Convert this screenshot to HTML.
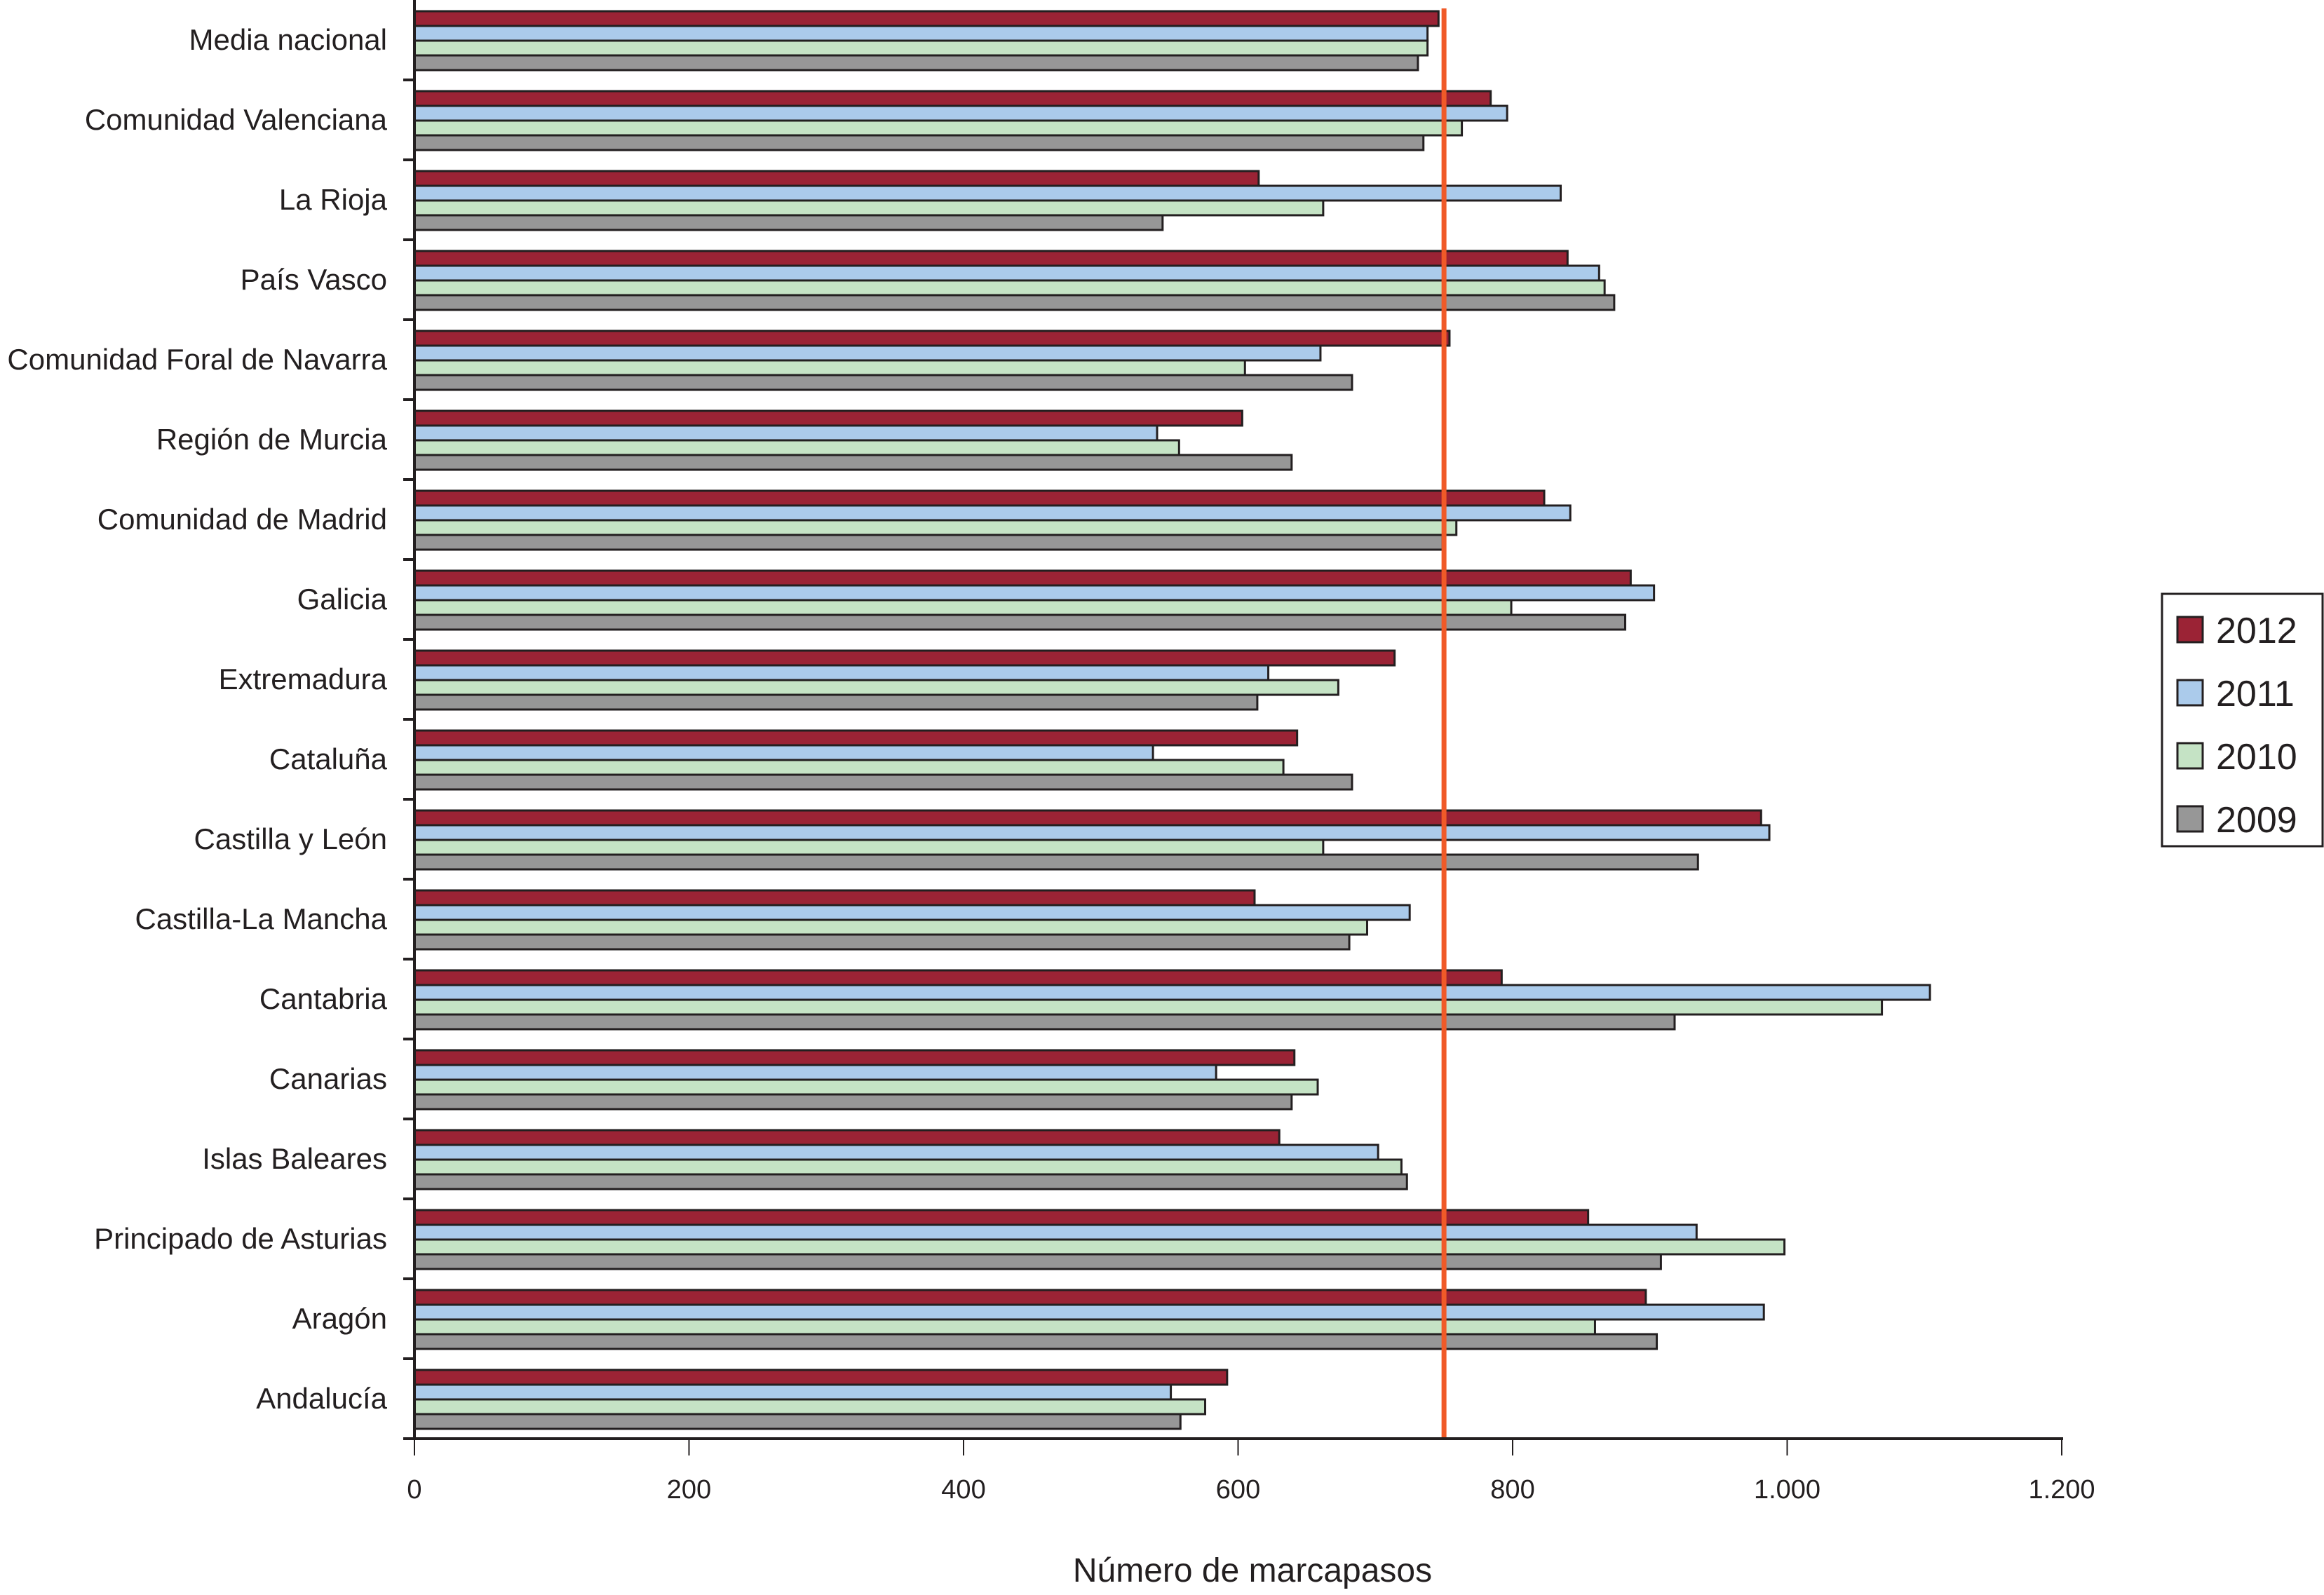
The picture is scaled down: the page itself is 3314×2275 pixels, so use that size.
<!DOCTYPE html>
<html><head><meta charset="utf-8"><style>
html,body{margin:0;padding:0;background:#fff;}
svg{display:block;font-family:"Liberation Sans",sans-serif;}
</style></head><body>
<svg id="chart" width="3314" height="2275" viewBox="0 0 3314 2275" xmlns="http://www.w3.org/2000/svg">
<g id="bars"></g>
<g id="axes"></g>
<g id="legend"></g>
</svg>
<script>
const categories = ["Media nacional","Comunidad Valenciana","La Rioja","País Vasco","Comunidad Foral de Navarra","Región de Murcia","Comunidad de Madrid","Galicia","Extremadura","Cataluña","Castilla y León","Castilla-La Mancha","Cantabria","Canarias","Islas Baleares","Principado de Asturias","Aragón","Andalucía"];
const values2012 = [746,784,615,840,754,603,823,886,714,643,981,612,792,641,630,855,897,592];
const values2011 = [738,796,835,863,660,541,842,903,622,538,987,725,1104,584,702,934,983,551];
const values2010 = [738,763,662,867,605,557,759,799,673,633,662,694,1069,658,719,998,860,576];
const values2009 = [731,735,545,874,683,639,749,882,614,683,935,681,918,639,723,908,905,558];
const seriesNames = ["2012","2011","2010","2009"];
const xTicks = [0,200,400,600,800,1000,1200];
const xTickLabels = ["0","200","400","600","800","1.000","1.200"];
const referenceValue = 750;

const NS="http://www.w3.org/2000/svg";
const colors=["#9b2335","#abcbeb","#c5e3c5","#979797"];
const X0=591, X1=2940, Y0=0, Y1=2052;
const band=(Y1-Y0)/categories.length;
function xs(v){return X0+(v/1200)*(X1-X0);}
function mk(tag,attrs,parent){const e=document.createElementNS(NS,tag);for(const k in attrs)e.setAttribute(k,attrs[k]);parent.appendChild(e);return e;}
const gB=document.getElementById('bars'), gA=document.getElementById('axes'), gL=document.getElementById('legend');
const series=[values2012,values2011,values2010,values2009];

categories.forEach((c,i)=>{
  const top=Y0+band*i;
  series.forEach((vals,s)=>{
    const r=mk('rect',{x:X0,y:top+16+s*21,width:xs(vals[i])-X0,height:21,fill:colors[s],stroke:"#231f20","stroke-width":3},gB);
    
    
  });
  const t=mk('text',{x:552,y:top+band/2+14,"text-anchor":"end","font-size":42,fill:"#231f20"},gA);
  t.textContent=c;
  
  
  const tk=mk('line',{x1:575,x2:592,y1:top+band,y2:top+band,stroke:"#231f20","stroke-width":4},gA);
  
  
});
const ref=mk('line',{x1:xs(referenceValue),x2:xs(referenceValue),y1:12,y2:Y1,stroke:"#f05a28","stroke-width":7},gB);


const ya=mk('line',{x1:X0,x2:X0,y1:0,y2:Y1+2,stroke:"#231f20","stroke-width":4},gA);


const xa=mk('line',{x1:575,x2:X1+2,y1:Y1,y2:Y1,stroke:"#231f20","stroke-width":4},gA);


xTicks.forEach((v,i)=>{
  const l=mk('line',{x1:xs(v),x2:xs(v),y1:Y1,y2:Y1+24,stroke:"#231f20","stroke-width":2},gA);
  
  
  const t=mk('text',{x:xs(v),y:2137,"text-anchor":"middle","font-size":38,fill:"#231f20"},gA);
  t.textContent=xTickLabels[i];
  
  
});
const title=mk('text',{x:1786,y:2256,"text-anchor":"middle","font-size":48,fill:"#231f20"},gA);
title.textContent="Número de marcapasos";


const box=mk('rect',{x:3083,y:847,width:229,height:360,fill:"#fff",stroke:"#231f20","stroke-width":3},gL);


seriesNames.forEach((n,s)=>{
  const cy=898+s*90;
  const sw=mk('rect',{x:3105,y:cy-18,width:36,height:36,fill:colors[s],stroke:"#231f20","stroke-width":3},gL);
  
  
  const t=mk('text',{x:3160,y:cy+19,"font-size":52,fill:"#231f20"},gL);
  t.textContent=n;
  
  
});
</script>
</body></html>
